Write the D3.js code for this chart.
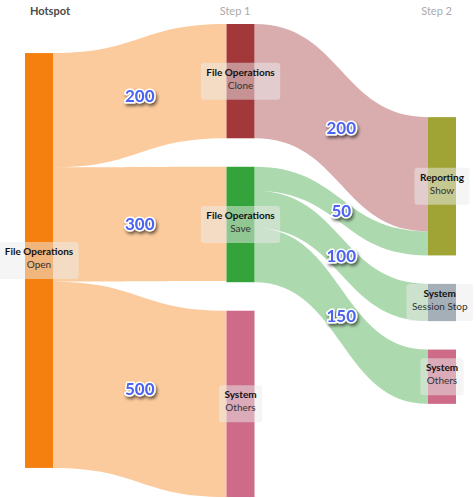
<!DOCTYPE html>
<html><head><meta charset="utf-8">
<script src="https://cdn.jsdelivr.net/npm/d3@7"></script>
<style>
html,body{margin:0;padding:0;background:#fff;}
svg{display:block;font-family:Lato,"Open Sans",sans-serif;}
</style></head>
<body>
<svg id="chart" width="476" height="498"></svg>
<script>
// ---- data ----
const columnHeaders = ["Hotspot", "Step 1", "Step 2"];
const nodeGroups = ["File Operations", "File Operations", "File Operations", "System", "Reporting", "System", "System"];
const nodeActions = ["Open", "Clone", "Save", "Others", "Show", "Session Stop", "Others"];
const nodeColumns = [0, 1, 1, 1, 2, 2, 2];
const nodeColors = ["#f58010", "#a3383b", "#35a33b", "#cd6b88", "#9fa435", "#5d7385", "#cd6b88"];
const linkSources = [0, 0, 0, 1, 2, 2, 2];
const linkTargets = [1, 2, 3, 4, 4, 5, 6];
const linkLabels = [200, 300, 500, 200, 50, 100, 150];
// band thickness as drawn in the reference (data units)
const linkWeights = [200, 200, 326, 200, 42, 65, 95];

(function () {
// ---- layout ----
const W = 476, H = 498;
const yTop = 24, yBottom = 497, nodeW = 28, pad = 28.5;
const svg = d3.select("#chart");

const nodes = nodeGroups.map((g, i) => ({i, group: g, action: nodeActions[i], col: nodeColumns[i], color: nodeColors[i], inL: [], outL: []}));
const links = linkSources.map((s, i) => ({i, source: nodes[s], target: nodes[linkTargets[i]], w: linkWeights[i], label: linkLabels[i]}));
links.forEach(l => { l.source.outL.push(l); l.target.inL.push(l); });
nodes.forEach(n => { n.value = Math.max(d3.sum(n.inL, l => l.w), d3.sum(n.outL, l => l.w)); });

const cols = d3.groups(nodes, n => n.col).sort((a, b) => a[0] - b[0]).map(d => d[1]);
const ky = d3.min(cols, c => (yBottom - yTop - (c.length - 1) * pad) / d3.sum(c, n => n.value));
const y = d3.scaleLinear().domain([0, 1]).range([0, ky]);
const x = d3.scaleLinear().domain([0, 2]).range([25, 428]);
const cy = (yTop + yBottom) / 2;

cols.forEach(c => {
  const total = d3.sum(c, n => y(n.value)) + (c.length - 1) * pad;
  let yy = cy - total / 2;
  c.forEach(n => {
    n.x0 = x(n.col); n.x1 = n.x0 + nodeW;
    n.y0 = yy; n.y1 = yy + y(n.value);
    yy = n.y1 + pad;
  });
});
nodes.forEach(n => {
  let s = n.y0;
  n.outL.forEach(l => { l.sy0 = s; s += y(l.w); l.sy1 = s; });
  let t = n.y0;
  n.inL.forEach(l => { l.ty0 = t; t += y(l.w); l.ty1 = t; });
});

function bandPath(l) {
  const x0 = l.source.x1, x1 = l.target.x0, xm = (x0 + x1) / 2;
  const p = d3.path();
  p.moveTo(x0, l.sy0);
  p.bezierCurveTo(xm, l.sy0, xm, l.ty0, x1, l.ty0);
  p.lineTo(x1, l.ty1);
  p.bezierCurveTo(xm, l.ty1, xm, l.sy1, x0, l.sy1);
  p.closePath();
  return p.toString();
}

// ---- defs ----
const defs = svg.append("defs");
const f = defs.append("filter").attr("id", "shadow").attr("x", "-30%").attr("y", "-30%").attr("width", "160%").attr("height", "170%");
f.append("feDropShadow").attr("dx", 1.5).attr("dy", 2.5).attr("stdDeviation", 1.4).attr("flood-color", "#000").attr("flood-opacity", 0.55);

// ---- headers ----
svg.append("g").selectAll("text").data(cols).join("text")
  .attr("x", (c, i) => i === 0 ? c[0].x0 + 5 : c[0].x1 - 4)
  .attr("y", 14.5)
  .attr("text-anchor", (c, i) => i === 0 ? "start" : "end")
  .attr("font-size", 11)
  .attr("font-weight", (c, i) => i === 0 ? "bold" : "normal")
  .attr("fill", (c, i) => i === 0 ? "#4a4a4a" : "#aaaaaa")
  .text((c, i) => columnHeaders[i]);

// ---- links ----
svg.append("g").selectAll("path").data(links).join("path")
  .attr("d", bandPath)
  .attr("fill", l => l.source.color)
  .attr("fill-opacity", 0.41);

// ---- nodes ----
svg.append("g").selectAll("rect").data(nodes).join("rect")
  .attr("x", n => n.x0).attr("y", n => n.y0)
  .attr("width", nodeW).attr("height", n => n.y1 - n.y0)
  .attr("fill", n => n.color);

// ---- node labels ----
const lg = svg.append("g").selectAll("g").data(nodes).join("g")
  .attr("transform", n => `translate(${(n.x0 + n.x1) / 2},${(n.y0 + n.y1) / 2})`);
lg.append("rect").attr("rx", 3).attr("ry", 3)
  .attr("fill", "#ececec").attr("fill-opacity", 0.5);
lg.append("text").attr("text-anchor", "middle").attr("y", -5.5)
  .attr("font-size", 10).attr("font-weight", "bold").attr("fill", "#111").text(n => n.group);
lg.append("text").attr("text-anchor", "middle").attr("y", 7.5)
  .attr("font-size", 10).attr("fill", "#333").text(n => n.action);
lg.each(function (n) {
  const g = d3.select(this);
  const ts = g.selectAll("text").nodes();
  const w = Math.max(ts[0].getComputedTextLength(), ts[1].getComputedTextLength()) + 11;
  const cxAbs = (n.x0 + n.x1) / 2;
  let shift = 0;
  if (cxAbs + w / 2 > W - 3) shift = (W - 3) - (cxAbs + w / 2);
  g.select("rect").attr("x", -w / 2 + shift).attr("y", -18.5).attr("width", w).attr("height", 37);
  g.selectAll("text").attr("x", shift);
});

// ---- link value labels ----
svg.append("g").selectAll("text").data(links).join("text")
  .attr("x", l => (l.source.x1 + l.target.x0) / 2)
  .attr("y", l => ((l.sy0 + l.sy1) / 2 + (l.ty0 + l.ty1) / 2) / 2)
  .attr("dy", "0.36em")
  .attr("text-anchor", "middle")
  .attr("font-size", 17).attr("font-weight", "bold")
  .attr("fill", "#4b63f0")
  .attr("stroke", "#fff").attr("stroke-width", 3.2).attr("stroke-linejoin", "round")
  .attr("paint-order", "stroke")
  .attr("filter", "url(#shadow)")
  .text(l => l.label);
})();
</script>
</body></html>
